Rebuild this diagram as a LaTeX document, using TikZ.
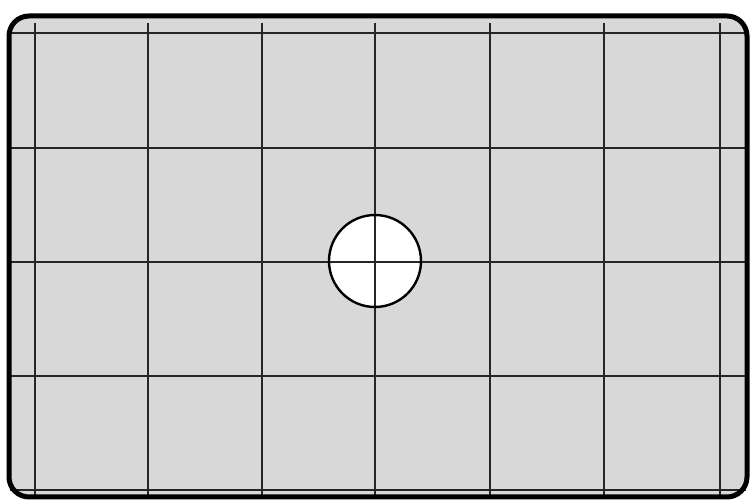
\documentclass[tikz,border=0pt]{standalone}
\usepackage{tikz}

\definecolor{screengray}{RGB}{216,216,216}

\begin{document}
\begin{tikzpicture}[x=0.5pt,y=-0.5pt, frame/.style={line width=2.5pt,rounded corners=10pt},
  gridline/.style={line width=0.75pt,black!85}, spot/.style={line width=1.2pt}]
\useasboundingbox (0,0) rectangle (751,501);
\fill[screengray,rounded corners=10pt] (9,16) rectangle (747,497);
\coordinate (c) at (375,261);
\fill[white] (c) circle[radius=46];
% grid
\foreach \x in {35,148,262,375,490,604,720}
  \draw[gridline] (\x,23) -- (\x,496);
\foreach \y in {33,148,262,376,490}
  \draw[gridline] (10,\y) -- (746,\y);
\draw[spot] (c) circle[radius=46];
\draw[frame] (9,16) rectangle (747,497);
\end{tikzpicture}
\end{document}
